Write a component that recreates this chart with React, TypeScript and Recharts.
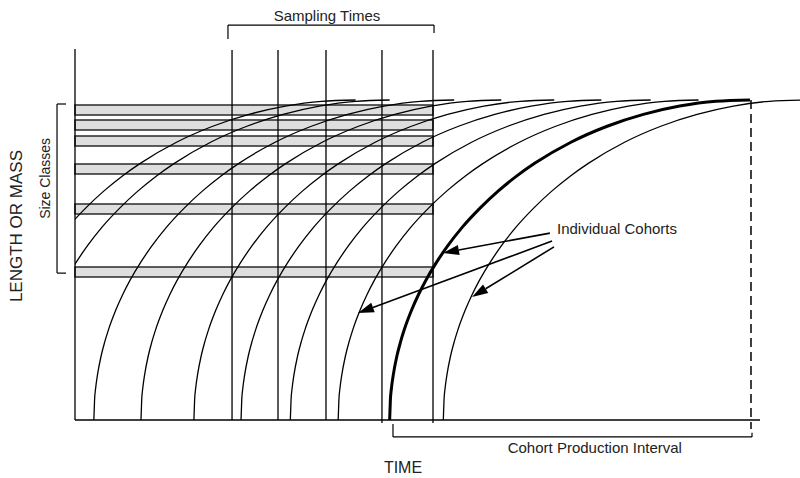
import React from 'react';
import {
  ComposedChart,
  Line,
  XAxis,
  YAxis,
  ReferenceLine,
  ReferenceArea,
  ReferenceDot,
} from 'recharts';

// time units along x, size (% of max length/mass) along y
const cohortBirths = [-11.0, -6.3, 2.6, 9.1, 16.4, 22.9, 29.7, 36.3, 43.4, 50.8];
const highlightedBirth = 43.4;

// one growth curve, shared by every cohort
const growthAge = [0, 0.1, 0.25, 0.5, 1, 1.5, 2, 3, 4, 5, 6.5, 8, 10, 12.5, 15, 17.5, 20, 25, 30, 35, 40, 45, 49.7];
const growthSize = [0, 6.3, 10, 14.1, 20, 24.4, 28.1, 34.2, 39.3, 43.7, 49.4, 54.4, 60.2, 66.3, 71.6, 76.2, 80.2, 86.8, 91.8, 95.5, 98.1, 99.6, 100];

const samplingTimes = [21.66, 28.0, 34.62, 42.34, 49.38];
const sizeClassLow = [95.3, 90.6, 85.6, 76.9, 64.4, 44.7];
const sizeClassHigh = [98.4, 93.75, 88.75, 80, 67.5, 47.8];

const productionEnd = 93.24;
const axisEnd = 94.48;
const lineTop = 115.6;

const FONT = '"Liberation Sans", Arial, Helvetica, sans-serif';

const cohorts = cohortBirths.map((birth) => ({
  birth,
  data: growthAge.map((a, i) => ({ t: birth + a, s: growthSize[i] })),
}));

const arrows = [
  { from: { x: 65.5, y: 58.4 }, to: { x: 50.76, y: 52.2 } },
  { from: { x: 65.8, y: 55.9 }, to: { x: 39.03, y: 33.4 } },
  { from: { x: 66.07, y: 54.1 }, to: { x: 54.76, y: 38.4 } },
];

const ArrowShape = (props: any) => {
  const { x1, y1, x2, y2 } = props;
  const dx = x2 - x1;
  const dy = y2 - y1;
  const len = Math.sqrt(dx * dx + dy * dy) || 1;
  const ux = dx / len;
  const uy = dy / len;
  const head = 16;
  const half = 5;
  const bx = x2 - ux * head;
  const by = y2 - uy * head;
  const pts = `${x2},${y2} ${bx - uy * half},${by + ux * half} ${bx + uy * half},${by - ux * half}`;
  return (
    <g>
      <line x1={x1} y1={y1} x2={bx} y2={by} stroke="#000" strokeWidth={1.6} />
      <polygon points={pts} fill="#000" />
    </g>
  );
};

const seg = (x1: number, y1: number, x2: number, y2: number) => [
  { x: x1, y: y1 },
  { x: x2, y: y2 },
];

export default function App() {
  return (
    <div style={{ position: 'absolute', left: 0, top: 0, background: '#fff' }}>
      <ComposedChart
        width={800}
        height={478}
        margin={{ top: 0, right: 0, bottom: 0, left: 75 }}
      >
        <XAxis type="number" dataKey="t" domain={[0, 100]} allowDataOverflow hide />
        <YAxis type="number" dataKey="s" domain={[-18.125, 131.25]} allowDataOverflow hide />

        {sizeClassLow.map((lo, i) => (
          <ReferenceArea
            key={`band-${i}`}
            x1={0}
            x2={samplingTimes[samplingTimes.length - 1]}
            y1={lo}
            y2={sizeClassHigh[i]}
            fill="#dedede"
            fillOpacity={1}
            stroke="#2a2a2a"
            strokeWidth={1.5}
            ifOverflow="visible"
          />
        ))}

        {/* axes */}
        <ReferenceLine segment={seg(0, 0, 0, 115.9)} stroke="#000" strokeWidth={1.3} ifOverflow="visible" />
        <ReferenceLine segment={seg(0, 0, axisEnd, 0)} stroke="#000" strokeWidth={1.3} ifOverflow="visible" />

        {samplingTimes.map((t, i) => (
          <ReferenceLine
            key={`samp-${i}`}
            segment={seg(t, i >= 3 ? -0.9 : 0, t, lineTop)}
            stroke="#000"
            strokeWidth={1.3}
            ifOverflow="visible"
          />
        ))}

        <ReferenceLine
          segment={seg(productionEnd, 100, productionEnd, -2.8)}
          stroke="#000"
          strokeWidth={1.5}
          strokeDasharray="9 5"
          ifOverflow="visible"
        />

        {/* sampling times bracket */}
        <ReferenceLine segment={seg(21.1, 119.1, 21.1, 123.4)} stroke="#000" strokeWidth={1.2} ifOverflow="visible" />
        <ReferenceLine segment={seg(21.1, 123.4, 49.52, 123.4)} stroke="#000" strokeWidth={1.2} ifOverflow="visible" />
        <ReferenceLine segment={seg(49.52, 123.4, 49.52, 120.9)} stroke="#000" strokeWidth={1.2} ifOverflow="visible" />

        {/* size classes bracket */}
        <ReferenceLine segment={seg(-1.24, 98.75, -2.48, 98.75)} stroke="#000" strokeWidth={1.2} ifOverflow="visible" />
        <ReferenceLine segment={seg(-2.48, 98.75, -2.48, 45.9)} stroke="#000" strokeWidth={1.2} ifOverflow="visible" />
        <ReferenceLine segment={seg(-2.48, 45.9, -1.24, 45.9)} stroke="#000" strokeWidth={1.2} ifOverflow="visible" />

        {/* cohort production interval bracket */}
        <ReferenceLine segment={seg(43.86, -1.25, 43.86, -5.3)} stroke="#000" strokeWidth={1.2} ifOverflow="visible" />
        <ReferenceLine segment={seg(43.86, -5.3, 93.38, -5.3)} stroke="#000" strokeWidth={1.2} ifOverflow="visible" />
        <ReferenceLine segment={seg(93.38, -5.3, 93.38, -4.0)} stroke="#000" strokeWidth={1.2} ifOverflow="visible" />

        {cohorts.map((c, i) => (
          <Line
            key={`cohort-${i}`}
            data={c.data}
            dataKey="s"
            type="monotone"
            stroke="#000"
            strokeWidth={c.birth === highlightedBirth ? 3 : 1.3}
            dot={false}
            activeDot={false}
            isAnimationActive={false}
          />
        ))}

        {arrows.map((a, i) => (
          <ReferenceLine
            key={`arrow-${i}`}
            segment={[a.from, a.to]}
            ifOverflow="visible"
            shape={ArrowShape}
          />
        ))}

        <ReferenceDot
          x={34.76}
          y={126.25}
          r={0}
          stroke="none"
          ifOverflow="visible"
          label={{ value: 'Sampling Times', position: 'center', fontSize: 15, fontFamily: FONT, fill: '#222' }}
        />
        <ReferenceDot
          x={66.48}
          y={59.7}
          r={0}
          stroke="none"
          ifOverflow="visible"
          label={{ value: 'Individual Cohorts', position: 'right', offset: 0, fontSize: 15, fontFamily: FONT, fill: '#222' }}
        />
        <ReferenceDot
          x={71.7}
          y={-8.75}
          r={0}
          stroke="none"
          ifOverflow="visible"
          label={{ value: 'Cohort Production Interval', position: 'center', fontSize: 15, fontFamily: FONT, fill: '#222' }}
        />
        <ReferenceDot
          x={45.24}
          y={-14.9}
          r={0}
          stroke="none"
          ifOverflow="visible"
          label={{ value: 'TIME', position: 'center', fontSize: 16, fontFamily: FONT, fill: '#222' }}
        />
        <ReferenceDot
          x={-4.14}
          y={75.5}
          r={0}
          stroke="none"
          ifOverflow="visible"
          label={{ value: 'Size Classes', position: 'center', angle: -90, fontSize: 14, fontFamily: FONT, fill: '#222' }}
        />
        <ReferenceDot
          x={-8.14}
          y={60.6}
          r={0}
          stroke="none"
          ifOverflow="visible"
          label={{ value: 'LENGTH OR MASS', position: 'center', angle: -90, fontSize: 17, fontFamily: FONT, fill: '#222' }}
        />
      </ComposedChart>
    </div>
  );
}
